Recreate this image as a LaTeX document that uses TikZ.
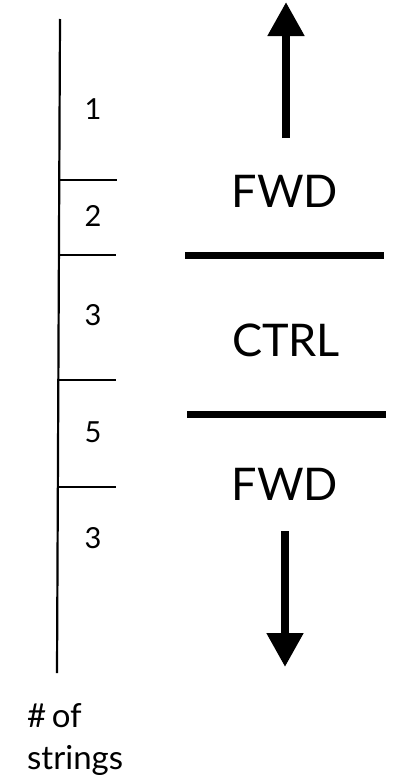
\documentclass[tikz,border=0pt]{standalone}
\usepackage{fontspec}
\setmainfont{Lato}
\usetikzlibrary{arrows.meta}
\begin{document}
\begin{tikzpicture}[x=1pt,y=-1pt,
  axis/.style={line width=2.2pt},
  tick/.style={line width=2.2pt},
  bar/.style={line width=7pt},
  bigarrow/.style={line width=8pt,-{Triangle[width=35pt,length=34pt]}},
  num/.style={font=\fontsize{29}{30}\selectfont,inner sep=0pt},
  lab/.style={font=\fontsize{45}{50}\selectfont,inner sep=0pt},
  captext/.style={font=\fontsize{33}{42}\selectfont,align=left,inner sep=0pt,anchor=north west}]
\useasboundingbox (0,0) rectangle (397,779);
% axis
\coordinate (atop) at (60,19);
\coordinate (abot) at (57,673);
\draw[axis] (atop) -- (abot);
% ticks
\coordinate (t1a) at (59,180); \coordinate (t1b) at (117,180);
\coordinate (t2a) at (58,255); \coordinate (t2b) at (116,255);
\coordinate (t3a) at (58,380); \coordinate (t3b) at (116,380);
\coordinate (t4a) at (57,487); \coordinate (t4b) at (116,487);
\draw[tick] (t1a) -- (t1b);
\draw[tick] (t2a) -- (t2b);
\draw[tick] (t3a) -- (t3b);
\draw[tick] (t4a) -- (t4b);
% counts
\node[num] (n1) at (93,109) {1};
\node[num] (n2) at (93,216) {2};
\node[num] (n3) at (93,315) {3};
\node[num] (n4) at (93,432) {5};
\node[num] (n5) at (93,538) {3};
% caption
\node[captext] (capn) at (27,703) {\#\,of\\strings};
% bars
\coordinate (b1a) at (185,255); \coordinate (b1b) at (384,255);
\coordinate (b2a) at (187,414); \coordinate (b2b) at (386,414);
\draw[bar] (b1a) -- (b1b);
\draw[bar] (b2a) -- (b2b);
% labels
\node[lab] (fwdtop) at (285,191) {FWD};
\node[lab] (ctrl) at (286,340) {CTRL};
\node[lab] (fwdbot) at (285,484) {FWD};
% arrows
\coordinate (upa) at (286,138); \coordinate (upb) at (286,2);
\coordinate (dna) at (285,531); \coordinate (dnb) at (285,667);
\draw[bigarrow] (upa) -- (upb);
\draw[bigarrow] (dna) -- (dnb);
\end{tikzpicture}
\end{document}
